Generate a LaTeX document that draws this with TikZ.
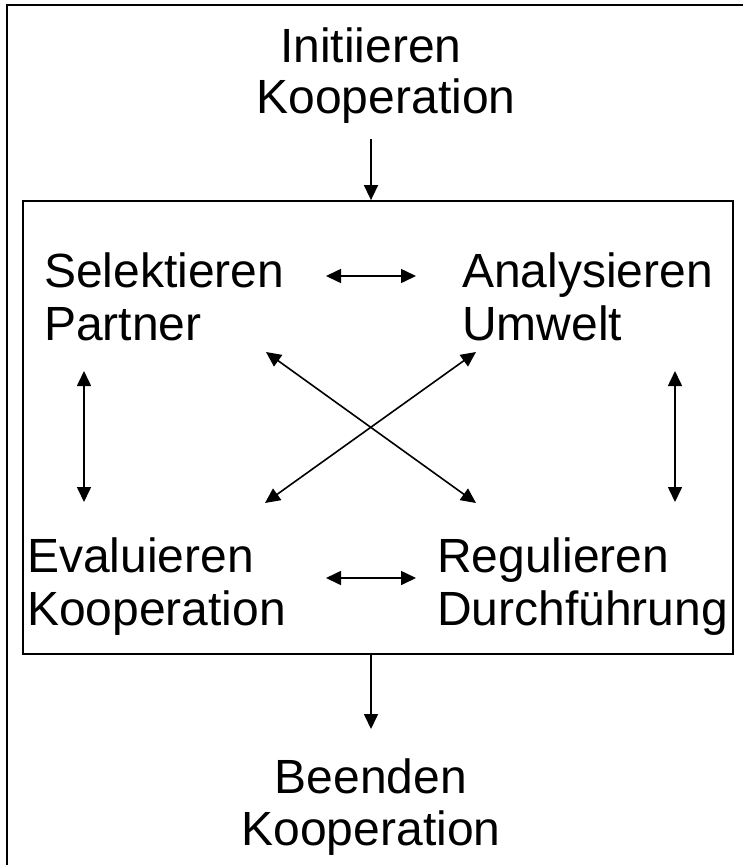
\documentclass[tikz,border=0pt]{standalone}
\usepackage{fontspec}
\setmainfont{Liberation Sans}
\usetikzlibrary{arrows.meta}
\begin{document}
\begin{tikzpicture}[x=1pt,y=-1pt,
  lbl/.style={inner sep=0pt, font=\fontsize{48}{52}\selectfont},
  tip/.tip={Triangle[length=15pt,width=14pt]},
  conn/.style={line width=1.6pt, -tip},
  biconn/.style={line width=1.6pt, tip-tip},
  frame/.style={line width=2pt}]
\useasboundingbox (0,0) rectangle (743,865);
\clip (0,0) rectangle (743,865);
\fill[white] (0,0) rectangle (743,865);
% outer frame (only top and left edges visible)
\draw[frame] (7,880) -- (7,5) -- (760,5);
% inner box
\node[draw, line width=1.8pt, inner sep=0pt, minimum width=710pt, minimum height=453pt] (box) at (378,427.5) {};
% texts
\node[lbl, anchor=base] (ini1) at (371,62) {Initiieren};
\node[lbl, anchor=base] (ini2) at (386,113) {Kooperation};
\node[lbl, anchor=base west] (sel1) at (44,287) {Selektieren};
\node[lbl, anchor=base west] (sel2) at (44,340) {Partner};
\node[lbl, anchor=base west] (ana1) at (462,287) {Analysieren};
\node[lbl, anchor=base west] (ana2) at (462,340) {Umwelt};
\node[lbl, anchor=base west] (eva1) at (27,572) {Evaluieren};
\node[lbl, anchor=base west] (eva2) at (27,625) {Kooperation};
\node[lbl, anchor=base west] (reg1) at (437,572) {Regulieren};
\node[lbl, anchor=base west] (reg2) at (437,625) {Durchführung};
\node[lbl, anchor=base] (bee1) at (371,793) {Beenden};
\node[lbl, anchor=base] (bee2) at (371,845) {Kooperation};
% arrow end points
\coordinate (inS) at (371,139);
\coordinate (outE) at (371,729);
\coordinate (hT1) at (326,276);
\coordinate (hT2) at (416,276);
\coordinate (hB1) at (326,578);
\coordinate (hB2) at (416,578);
\coordinate (vL1) at (84,371);
\coordinate (vL2) at (84,502);
\coordinate (vR1) at (675,371);
\coordinate (vR2) at (675,502);
\coordinate (dTL) at (266,352);
\coordinate (dTR) at (476,352);
\coordinate (dBL) at (265,503);
\coordinate (dBR) at (476,503);
% connectors
\draw[conn] (inS) -- (ini1 |- box.north);
\draw[conn] (bee1 |- box.south) -- (outE);
\draw[biconn] (hT1) -- (hT2);
\draw[biconn] (hB1) -- (hB2);
\draw[biconn] (vL1) -- (vL2);
\draw[biconn] (vR1) -- (vR2);
\draw[biconn] (dTL) -- (dBR);
\draw[biconn] (dTR) -- (dBL);
\end{tikzpicture}
\end{document}
